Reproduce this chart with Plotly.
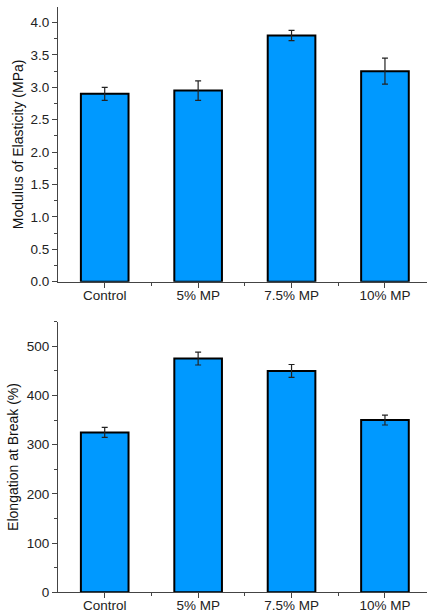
import plotly.graph_objects as go
from plotly.subplots import make_subplots

categories = ["Control", "5% MP", "7.5% MP", "10% MP"]
modulus = [2.90, 2.95, 3.80, 3.25]
modulus_err = [0.10, 0.15, 0.08, 0.20]
elongation = [325, 475, 450, 350]
elongation_err = [10, 13, 13, 10]

bar_color = "#0099FF"
font_family = "Liberation Sans, Arial, sans-serif"

fig = make_subplots(rows=2, cols=1, shared_xaxes=False, vertical_spacing=0.065)

def add_bars(y, err, row):
    fig.add_trace(
        go.Bar(
            x=list(range(len(categories))),
            y=y,
            width=0.51,
            marker=dict(color=bar_color, line=dict(color="black", width=2)),
            error_y=dict(type="data", array=err, visible=True,
                         color="#222222", thickness=1.2, width=3),
            showlegend=False,
        ),
        row=row, col=1,
    )

add_bars(modulus, modulus_err, 1)
add_bars(elongation, elongation_err, 2)

axis_common = dict(
    automargin=False,
    showline=True, linecolor="#444444", linewidth=1,
    ticks="outside", ticklen=5, tickwidth=1, tickcolor="#444444",
    showgrid=False, zeroline=False,
    tickfont=dict(family=font_family, size=13.5, color="#222222"),
)

for r in (1, 2):
    fig.update_xaxes(
        range=[-0.5, 3.45],
        tickmode="array", tickvals=list(range(len(categories))), ticktext=categories,
        ticklabelstandoff=-4,
        minor=dict(tickmode="array", tickvals=[0.5, 1.5, 2.5],
                   ticks="outside", ticklen=3, tickcolor="#444444"),
        **axis_common, row=r, col=1,
    )

fig.update_yaxes(
    range=[0, 4.24], dtick=0.5, tickformat=".1f",
    minor=dict(dtick=0.25, ticks="outside", ticklen=3, tickcolor="#444444"),
    title=dict(text="Modulus of Elasticity (MPa)", standoff=3,
               font=dict(family=font_family, size=14, color="#111111")),
    **axis_common, row=1, col=1,
)
fig.update_yaxes(
    range=[0, 550], dtick=100,
    minor=dict(dtick=50, ticks="outside", ticklen=3, tickcolor="#444444"),
    title=dict(text="Elongation at Break (%)", standoff=4,
               font=dict(family=font_family, size=14, color="#111111")),
    **axis_common, row=2, col=1,
)

fig.update_layout(
    width=427, height=616,
    margin=dict(l=58, r=0, t=0, b=0),
    paper_bgcolor="white", plot_bgcolor="white",
    bargap=0.49,
    font=dict(family=font_family),
    yaxis=dict(domain=[0.5427, 0.9886]),
    yaxis2=dict(domain=[0.0385, 0.4778]),
)

fig.write_html("out.html")
